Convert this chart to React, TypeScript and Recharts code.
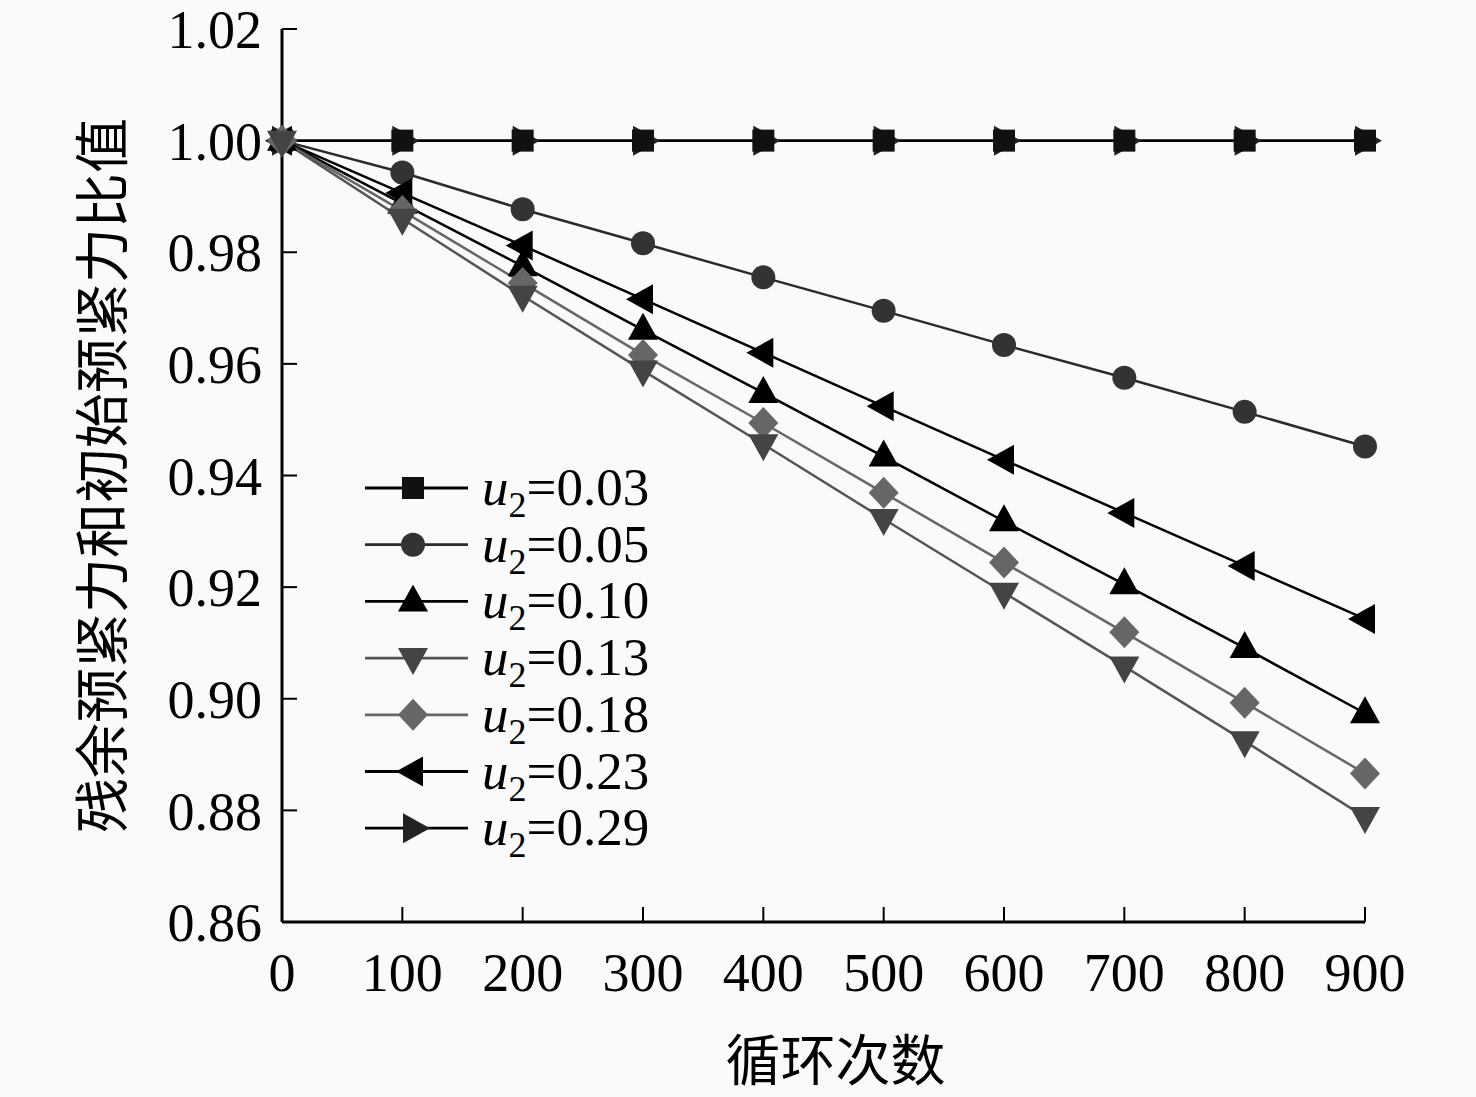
import React from "react";
import { LineChart, Line, XAxis, YAxis } from "recharts";

const cycles = [0, 100, 200, 300, 400, 500, 600, 700, 800, 900];
const xTicks = [0, 100, 200, 300, 400, 500, 600, 700, 800, 900];
const yTicks = [0.86, 0.88, 0.9, 0.92, 0.94, 0.96, 0.98, 1.0, 1.02];

const u003 = [1, 1, 1, 1, 1, 1, 1, 1, 1, 1];
const u005 = [1, 0.9943, 0.9877, 0.9816, 0.9755, 0.9695, 0.9634, 0.9575, 0.9514, 0.9452];
const u010 = [1, 0.9887, 0.9775, 0.9661, 0.9548, 0.9434, 0.9318, 0.9205, 0.9091, 0.8974];
const u013 = [1, 0.986, 0.9722, 0.9588, 0.9456, 0.9322, 0.919, 0.9058, 0.8924, 0.8788];
const u018 = [1, 0.9874, 0.9745, 0.9616, 0.9494, 0.9369, 0.9244, 0.9119, 0.8993, 0.8866];
const u023 = [1, 0.9906, 0.9812, 0.9716, 0.962, 0.9524, 0.9428, 0.9333, 0.9238, 0.9143];
const u029 = [1, 1, 1, 1, 1, 1, 1, 1, 1, 1];

type Shape = "square" | "circle" | "up" | "down" | "diamond" | "left" | "right";

const SERIES: { key: string; label: string; values: number[]; shape: Shape; line: string; fill: string }[] = [
  { key: "u003", label: "0.03", values: u003, shape: "square", line: "#000", fill: "#111" },
  { key: "u005", label: "0.05", values: u005, shape: "circle", line: "#2a2a2a", fill: "#333" },
  { key: "u010", label: "0.10", values: u010, shape: "up", line: "#000", fill: "#000" },
  { key: "u013", label: "0.13", values: u013, shape: "down", line: "#555", fill: "#444" },
  { key: "u018", label: "0.18", values: u018, shape: "diamond", line: "#666", fill: "#666" },
  { key: "u023", label: "0.23", values: u023, shape: "left", line: "#000", fill: "#000" },
  { key: "u029", label: "0.29", values: u029, shape: "right", line: "#000", fill: "#222" },
];

// draw order: right triangles sit under the squares at 1.00
const DRAW_ORDER = ["u029", "u003", "u005", "u023", "u010", "u018", "u013"];

const chartData = cycles.map((c, i) => {
  const row: Record<string, number> = { cycle: c };
  SERIES.forEach((s) => (row[s.key] = s.values[i]));
  return row;
});

function MarkerShape({ cx, cy, shape, fill }: { cx: number; cy: number; shape: Shape; fill: string }) {
  if (cx == null || cy == null) return null;
  switch (shape) {
    case "square":
      return <rect x={cx - 11} y={cy - 11} width={22} height={22} fill={fill} />;
    case "circle":
      return <circle cx={cx} cy={cy} r={12} fill={fill} />;
    case "up":
      return <polygon points={`${cx},${cy - 17} ${cx + 15},${cy + 10} ${cx - 15},${cy + 10}`} fill={fill} />;
    case "down":
      return <polygon points={`${cx},${cy + 17} ${cx + 15},${cy - 10} ${cx - 15},${cy - 10}`} fill={fill} />;
    case "diamond":
      return <polygon points={`${cx},${cy - 16} ${cx + 15},${cy} ${cx},${cy + 16} ${cx - 15},${cy}`} fill={fill} />;
    case "left":
      return <polygon points={`${cx - 17},${cy} ${cx + 10},${cy - 15} ${cx + 10},${cy + 15}`} fill={fill} />;
    case "right":
      return <polygon points={`${cx + 17},${cy} ${cx - 10},${cy - 15} ${cx - 10},${cy + 15}`} fill={fill} />;
  }
  return null;
}

const serif = "'Liberation Serif', 'Times New Roman', serif";
const cjk = "'Noto Sans CJK SC', sans-serif";

function LegendBox() {
  return (
    <svg width={320} height={450} style={{ display: "block" }}>
      {SERIES.map((s, i) => {
        const y = 48 + i * 56.7;
        return (
          <g key={s.key}>
            <line x1={5} x2={108} y1={y} y2={y} stroke={s.line} strokeWidth={2.8} />
            <MarkerShape cx={53} cy={y} shape={s.shape} fill={s.fill} />
            <text x={122} y={y + 17} fontFamily={serif} fontSize={53} fill="#000">
              <tspan fontStyle="italic">u</tspan>
              <tspan fontSize={36} dy={12}>2</tspan>
              <tspan dy={-12}>={s.label}</tspan>
            </text>
          </g>
        );
      })}
    </svg>
  );
}

export default function App() {
  return (
    <div style={{ position: "absolute", left: 0, top: 0, width: 1476, height: 1097, background: "#fafafa" }}>
      <LineChart
        width={1476}
        height={1097}
        data={chartData}
        margin={{ top: 29, right: 111, left: 162, bottom: 95 }}
      >
        <XAxis
          dataKey="cycle"
          type="number"
          domain={[0, 900]}
          ticks={xTicks}
          interval={0}
          height={80}
          tickSize={-15}
          tickMargin={46}
          axisLine={{ stroke: "#000", strokeWidth: 3 }}
          tickLine={{ stroke: "#000", strokeWidth: 2 }}
          tick={{ fill: "#000", fontSize: 54, fontFamily: serif }}
          label={({ viewBox }: any) => (
            <text
              x={viewBox.x + viewBox.width / 2 + 12}
              y={1080}
              textAnchor="middle"
              fontFamily={cjk}
              fontSize={55}
              fill="#000"
            >
              循环次数
            </text>
          )}
        />
        <YAxis
          type="number"
          domain={[0.86, 1.02]}
          ticks={yTicks}
          interval={0}
          width={120}
          tickSize={-15}
          tickMargin={35}
          tickFormatter={(v: number) => v.toFixed(2)}
          axisLine={{ stroke: "#000", strokeWidth: 3 }}
          tickLine={{ stroke: "#000", strokeWidth: 2 }}
          tick={{ fill: "#000", fontSize: 54, fontFamily: serif }}
          label={({ viewBox }: any) => (
            <text
              x={98}
              y={viewBox.y + viewBox.height / 2}
              transform={`rotate(-90, 98, ${viewBox.y + viewBox.height / 2})`}
              textAnchor="middle"
              dominantBaseline="central"
              fontFamily={cjk}
              fontSize={55}
              fill="#000"
            >
              残余预紧力和初始预紧力比值
            </text>
          )}
        />
        {DRAW_ORDER.map((k) => {
          const s = SERIES.find((x) => x.key === k)!;
          return (
            <Line
              key={s.key}
              dataKey={s.key}
              type="linear"
              stroke={s.line}
              strokeWidth={2.5}
              isAnimationActive={false}
              dot={(p: any) => (
                <MarkerShape key={`${s.key}-${p.index}`} cx={p.cx} cy={p.cy} shape={s.shape} fill={s.fill} />
              )}
              activeDot={false}
            />
          );
        })}
      </LineChart>
      <div style={{ position: "absolute", left: 360, top: 440 }}>
        <LegendBox />
      </div>
    </div>
  );
}
